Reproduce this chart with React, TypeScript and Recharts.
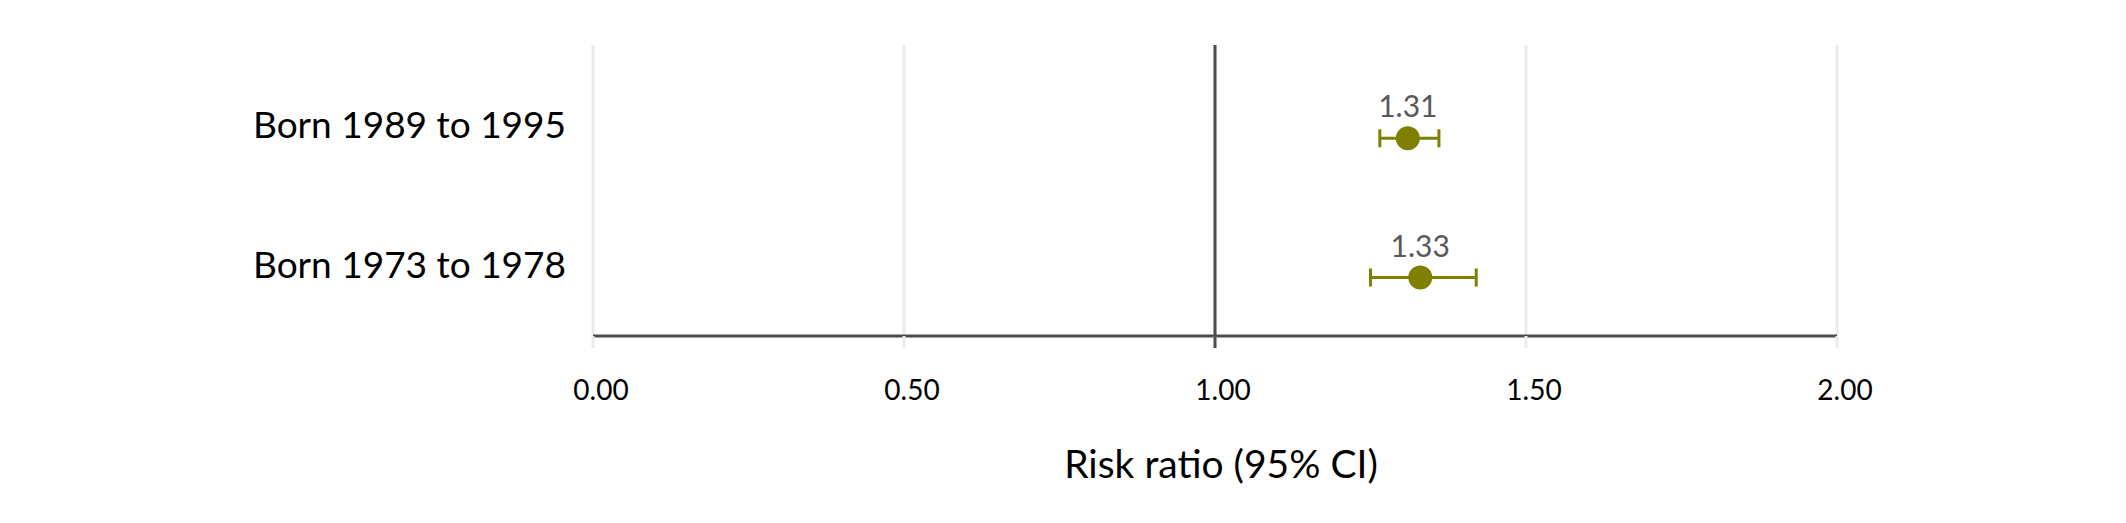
import { CartesianGrid, ErrorBar, ReferenceLine, Scatter, ScatterChart, XAxis, YAxis } from 'recharts';

// rows, listed from top to bottom
const categories = ['Born 1989 to 1995', 'Born 1973 to 1978'];
const estimates = [1.31, 1.33];
const lowerCI = [1.265, 1.25];
const upperCI = [1.36, 1.42];
const xTicks = [0, 0.5, 1, 1.5, 2];

const OLIVE = '#808000';
const DARK = '#4d4d4d';
const GRID = '#ebebeb';
const FONT = 'Lato, sans-serif';

// table for the scatter: row index on the y axis, CI as offsets around the estimate
const rows = categories.map((name, i) => ({
  name,
  row: categories.length - i,
  estimate: estimates[i],
  ci: [estimates[i] - lowerCI[i], upperCI[i] - estimates[i]],
}));

const YTick = ({ x, y, payload }: any) => (
  <text x={x} y={y} textAnchor="end" fontFamily={FONT} fontSize={37} fill="#000">
    {categories[categories.length - payload.value]}
  </text>
);

const XTick = ({ x, y, payload }: any) => (
  <g>
    {payload.value === 1 && (
      <line x1={x} x2={x} y1={y - 54} y2={y - 42} stroke={DARK} strokeWidth={3} />
    )}
    <text x={x + 8} y={y} dy={10} textAnchor="middle" fontFamily={FONT} fontSize={28} fill="#000">
      {Number(payload.value).toFixed(2)}
    </text>
  </g>
);

const Dot = (props: any) => {
  const { cx, cy } = props;
  const value = props.payload?.estimate ?? props.estimate;
  return (
    <g>
      <circle cx={cx} cy={cy} r={12} fill={OLIVE} />
      <text x={cx} y={cy - 21} textAnchor="middle" fontFamily={FONT} fontSize={30} fill="#595959">
        {Number(value).toFixed(2)}
      </text>
    </g>
  );
};

export default function App() {
  return (
    <ScatterChart width={2110} height={515} margin={{ top: 37, right: 281, bottom: 37, left: 0 }}>
      <CartesianGrid horizontal={false} stroke={GRID} strokeWidth={3} />
      <XAxis
        type="number"
        dataKey="estimate"
        domain={[0, 2]}
        ticks={xTicks}
        interval={0}
        allowDataOverflow
        height={150}
        tickSize={12}
        tickMargin={42}
        tick={<XTick />}
        axisLine={{ stroke: DARK, strokeWidth: 3 }}
        tickLine={{ stroke: GRID, strokeWidth: 3 }}
        label={{
          value: 'Risk ratio (95% CI)',
          position: 'insideBottom',
          offset: 8,
          dx: 6,
          fontFamily: FONT,
          fontSize: 39,
          fill: '#000',
        }}
      />
      <YAxis
        type="number"
        dataKey="row"
        domain={[0.58, 2.67]}
        ticks={[1, 2]}
        interval={0}
        allowDataOverflow
        width={585}
        tickSize={0}
        tickMargin={27}
        axisLine={false}
        tickLine={false}
        tick={<YTick />}
      />
      <ReferenceLine x={1} stroke={DARK} strokeWidth={3} />
      <Scatter data={rows} shape={<Dot />} isAnimationActive={false}>
        <ErrorBar dataKey="ci" direction="x" width={9} stroke={OLIVE} strokeWidth={3} />
      </Scatter>
    </ScatterChart>
  );
}
